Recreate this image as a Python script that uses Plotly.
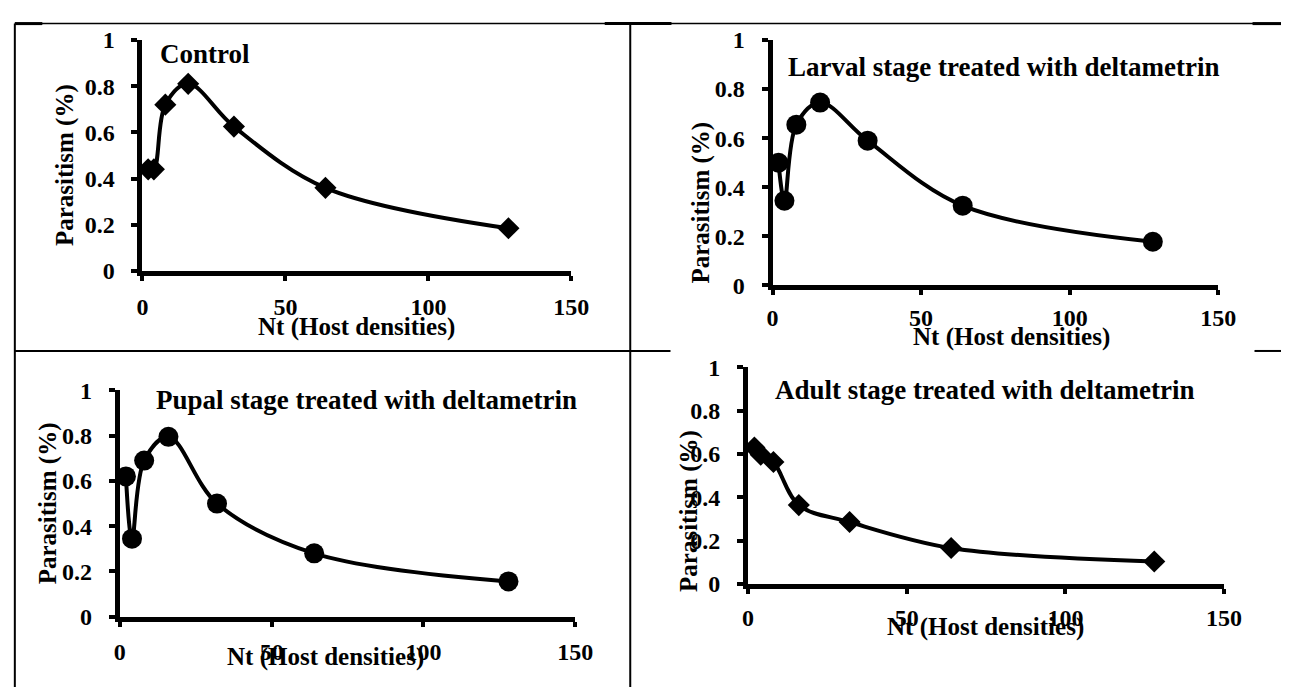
import plotly.graph_objects as go

# ---- data ----
nt = [2, 4, 8, 16, 32, 64, 128]
control = [0.44, 0.44, 0.72, 0.81, 0.625, 0.36, 0.185]
larval = [0.50, 0.345, 0.655, 0.745, 0.59, 0.325, 0.178]
pupal = [0.62, 0.345, 0.69, 0.795, 0.50, 0.28, 0.156]
adult = [0.63, 0.597, 0.563, 0.364, 0.286, 0.166, 0.104]

panel_titles = ["Control", "Larval stage treated with deltametrin",
                "Pupal stage treated with deltametrin", "Adult stage treated with deltametrin"]
x_ticks = [0, 50, 100, 150]
y_ticks = [0, 0.2, 0.4, 0.6, 0.8, 1]
y_tick_text = ["0", "0.2", "0.4", "0.6", "0.8", "1"]
x_title = "Nt (Host densities)"
y_title = "Parasitism (%)"

series = [control, larval, pupal, adult]
symbols = ["diamond", "circle", "circle", "diamond"]

W, H = 1299, 700
FONT = "Liberation Serif, Times New Roman, serif"

def px(x):
    return x / W

def py(y):
    return 1 - y / H

# layout geometry in pixels
geo = [
    dict(x0=139, x1=576, yt=28, yb=268, t=(155, 43), xt=(357, 326), yt_=(60, 158), sx=5, sy=12),
    dict(x0=781, x1=1235, yt=28, yb=283, t=(795, 56), xt=(1024, 337), yt_=(708, 197), sx=2, sy=12),
    dict(x0=116, x1=580, yt=392, yb=627, t=(151, 402), xt=(326, 669), yt_=(43, 509), sx=4, sy=12),
    dict(x0=756, x1=1241, yt=368, yb=593, t=(781, 392), xt=(998, 638), yt_=(696, 517), sx=3, sy=12),
]

fig = go.Figure()
annotations = []
for i, (vals, sym, g) in enumerate(zip(series, symbols, geo)):
    n = "" if i == 0 else str(i + 1)
    fig.add_trace(go.Scatter(
        x=nt, y=vals, mode="lines+markers",
        line=dict(color="black", width=4, shape="spline", smoothing=1.0),
        marker=dict(symbol=sym, size=20 if sym == "circle" else 17, color="black"),
        xaxis="x" + n, yaxis="y" + n, showlegend=False, cliponaxis=False,
    ))
    axfont = dict(family=FONT, size=24, color="black", weight="bold")
    fig.layout["xaxis" + n] = dict(
        domain=[px(g["x0"]), px(g["x1"])], range=[0, 150], anchor="y" + n,
        tickvals=x_ticks, ticks="outside", ticklen=5, tickwidth=4, tickcolor="black",
        showline=True, linewidth=5, linecolor="black", showgrid=False, zeroline=False,
        tickfont=axfont, ticklabelstandoff=g["sx"], fixedrange=True,
    )
    fig.layout["yaxis" + n] = dict(
        domain=[py(g["yb"]), py(g["yt"])], range=[0, 1], anchor="x" + n,
        tickvals=y_ticks, ticktext=y_tick_text, ticks="outside", ticklen=6, tickwidth=4,
        tickcolor="black", showline=True, linewidth=5, linecolor="black",
        showgrid=False, zeroline=False, tickfont=axfont, ticklabelstandoff=g["sy"],
        fixedrange=True,
    )
    annotations.append(dict(
        text=panel_titles[i], x=px(g["t"][0]), y=py(g["t"][1]), xref="paper", yref="paper",
        xanchor="left", yanchor="middle", showarrow=False,
        font=dict(family=FONT, size=27, color="black", weight="bold"),
    ))
    annotations.append(dict(
        text=x_title, x=px(g["xt"][0]), y=py(g["xt"][1]), xref="paper", yref="paper",
        xanchor="center", yanchor="middle", showarrow=False,
        font=dict(family=FONT, size=25, color="black", weight="bold"),
    ))
    annotations.append(dict(
        text=y_title, x=px(g["yt_"][0]), y=py(g["yt_"][1]), xref="paper", yref="paper",
        xanchor="center", yanchor="middle", showarrow=False, textangle=-90,
        font=dict(family=FONT, size=25, color="black", weight="bold"),
    ))

# table-like border lines
def hline(x0, x1, y, w=2):
    return dict(type="line", xref="paper", yref="paper", x0=px(x0), x1=px(x1),
                y0=py(y), y1=py(y), line=dict(color="black", width=w))

def vline(x, y0, y1, w=2):
    return dict(type="line", xref="paper", yref="paper", x0=px(x), x1=px(x),
                y0=py(y0), y1=py(y1), line=dict(color="black", width=w))

shapes = [
    hline(9, 1299, 11, 1.5),
    hline(9, 37, 11, 3),
    hline(610, 678, 11, 3),
    hline(1270, 1299, 11, 3),
    vline(9, 11, 700, 2),
    vline(636, 11, 700, 2),
    hline(9, 636, 351, 2),
    hline(636, 677, 351, 2),
    hline(1272, 1299, 351, 2),
]

fig.update_layout(
    width=W, height=H, margin=dict(l=0, r=0, t=0, b=0),
    paper_bgcolor="white", plot_bgcolor="white",
    annotations=annotations, shapes=shapes,
    font=dict(family=FONT, color="black"),
)

fig.write_html(
    "out.html",
    config={"displayModeBar": False},
    post_script="document.body.style.margin='0px';document.body.style.padding='0px';"
                "document.body.style.overflow='hidden';",
)
